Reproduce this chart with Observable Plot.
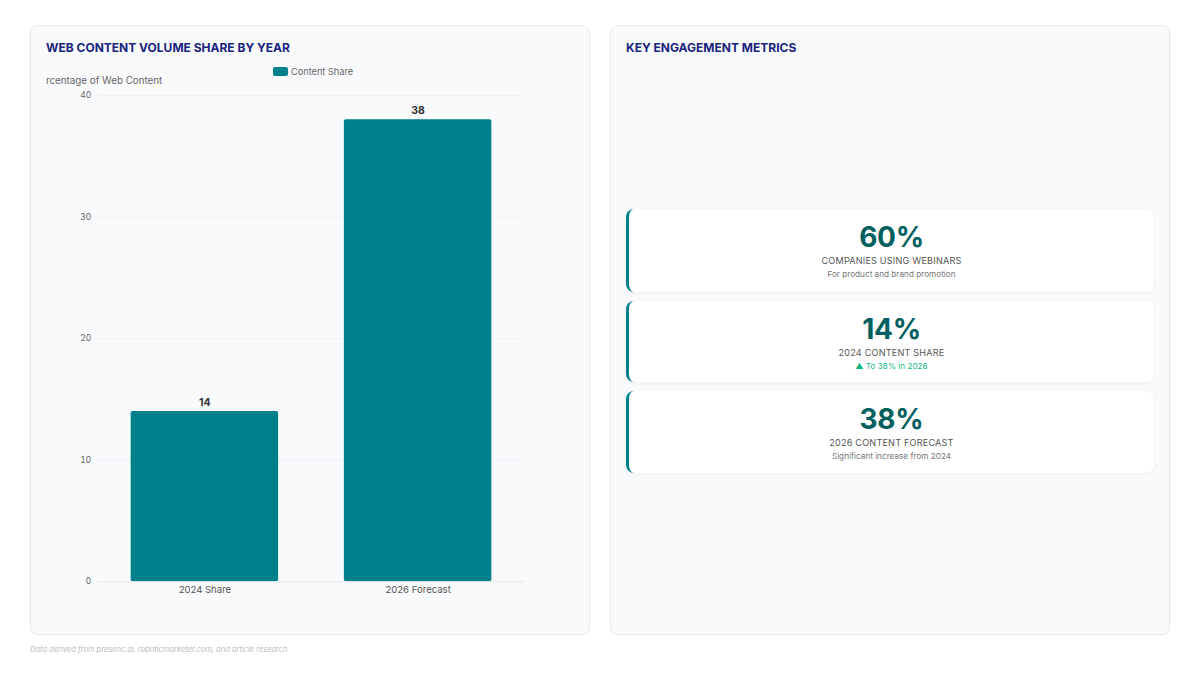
<!DOCTYPE html>
<html>
<head>
<meta charset="utf-8">
<script src="https://cdn.jsdelivr.net/npm/d3@7"></script>
<script src="https://cdn.jsdelivr.net/npm/@observablehq/plot@0.6"></script>
<style>
  html, body { margin: 0; padding: 0; background: #ffffff; }
  body { width: 1200px; height: 675px; position: relative; font-family: Inter, "Noto Sans", sans-serif; overflow: hidden; }
  .card { position: absolute; top: 25px; height: 610px; width: 560px; background: #f8fafc; border: 1px solid #e6e9ee; border-radius: 8px; box-sizing: border-box; }
  .title { position: absolute; left: 15px; top: 14px; font-size: 12px; font-weight: 700; color: #1a237e; letter-spacing: 0; }
  #left { left: 30px; }
  #right { left: 610px; }
  .legend { position: absolute; left: 242px; top: 40px; font-size: 9.2px; color: #666; display: flex; align-items: center; }
  .legend .sw { width: 15px; height: 9px; background: #00808a; border-radius: 2px; margin-right: 3px; }
  .ylab { position: absolute; left: 15px; top: 49px; width: 200px; overflow: hidden; font-size: 9.8px; color: #666; white-space: nowrap; }
  .ylab span { display: inline-block; margin-left: -12px; }
  #chart { position: absolute; left: 0; top: 58px; }
  .metric { position: absolute; left: 15px; width: 528px; background: #ffffff; border-left: 3px solid #00808a; border-radius: 8px; box-shadow: 0 1px 4px rgba(0,0,0,0.05); box-sizing: border-box; text-align: center; }
  .metric .num { font-size: 28px; font-weight: 700; color: #00605f; line-height: 1; margin-top: 13.5px; letter-spacing: -0.3px; }
  .metric .lab { font-size: 9.1px; color: #555; letter-spacing: 0.2px; margin-top: 5.5px; line-height: 1.2; }
  .metric .sub { font-size: 8.2px; color: #777; margin-top: 3.5px; line-height: 1.2; }
  .metric .sub.up { color: #10b981; }
  .footer { position: absolute; left: 30px; top: 645px; font-size: 7.5px; font-style: italic; color: #b8bcc2; }
</style>
</head>
<body>
<div class="card" id="left">
  <div class="title">WEB CONTENT VOLUME SHARE BY YEAR</div>
  <div class="legend"><div class="sw"></div><span>Content Share</span></div>
  <div class="ylab"><span>Percentage of Web Content</span></div>
  <div id="chart"></div>
</div>
<div class="card" id="right">
  <div class="title">KEY ENGAGEMENT METRICS</div>
  <div id="metrics"></div>
</div>
<div class="footer">Data derived from presenc.ai, roboticmarketer.com, and article research</div>
<script>
const categories = ["2024 Share", "2026 Forecast"];
const shareValues = [14, 38];
const yTicks = [0, 10, 20, 30, 40];

const metricValues = ["60%", "14%", "38%"];
const metricLabels = ["COMPANIES USING WEBINARS", "2024 CONTENT SHARE", "2026 CONTENT FORECAST"];
const metricSubs = ["For product and brand promotion", "▲ To 38% in 2026", "Significant increase from 2024"];
const metricSubUp = [false, true, false];

const data = categories.map((c, i) => ({category: c, value: shareValues[i]}));

const chart = Plot.plot({
  width: 560,
  height: 532,
  marginLeft: 66,
  marginRight: 65,
  marginTop: 11,
  marginBottom: 33,
  style: {fontFamily: "Inter, 'Noto Sans', sans-serif", background: "transparent", overflow: "visible"},
  x: {domain: categories, paddingInner: 0.31, paddingOuter: 0.155, label: null},
  y: {domain: [0, 40], ticks: yTicks, label: null},
  marks: [
    Plot.gridY(yTicks, {stroke: "#f1f3f6", strokeOpacity: 1}),
    Plot.barY(data, {x: "category", y: "value", fill: "#00808a", rx: 2}),
    Plot.ruleY([0], {stroke: "#e8eaed"}),
    Plot.text(data, {x: "category", y: "value", text: d => String(d.value), dy: -9, fontSize: 10.5, fontWeight: 700, fill: "#333"}),
    Plot.axisY({ticks: yTicks, tickSize: 0, tickPadding: 6, fontSize: 8.5, color: "#666", label: null}),
    Plot.axisX({tickSize: 0, tickPadding: 5, fontSize: 9.6, color: "#555", label: null})
  ]
});
document.getElementById("chart").appendChild(chart);

const tops = [183, 275, 365];
const heights = [83, 81, 82];
const mc = document.getElementById("metrics");
metricValues.forEach((v, i) => {
  const d = document.createElement("div");
  d.className = "metric";
  d.style.top = tops[i] + "px";
  d.style.height = heights[i] + "px";
  d.innerHTML = `<div class="num">${v}</div><div class="lab">${metricLabels[i]}</div><div class="sub${metricSubUp[i] ? " up" : ""}">${metricSubs[i]}</div>`;
  mc.appendChild(d);
});
</script>
</body>
</html>
